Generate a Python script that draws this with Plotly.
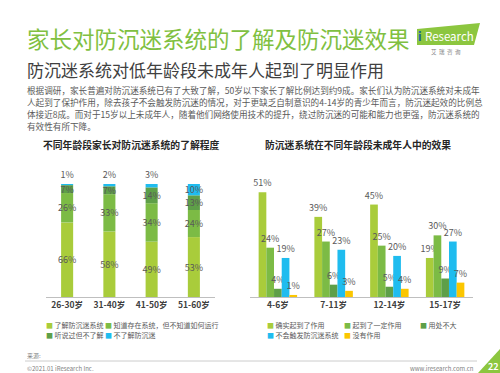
import plotly.graph_objects as go

W, H = 500, 373
FONT = "Noto Sans CJK SC"

# ---------------- data ----------------
age_parent = ["26-30岁", "31-40岁", "41-50岁", "51-60岁"]
parent_names = ["了解防沉迷系统", "知道存在系统，但不知道如何运行", "听说过但不了解", "不了解防沉迷"]
know_full = [66, 58, 49, 53]
know_exist = [26, 33, 34, 24]
heard_only = [7, 7, 14, 13]
not_know = [1, 2, 3, 10]

age_child = ["4-6岁", "7-11岁", "12-14岁", "15-17岁"]
child_names = ["确实起到了作用", "起到了一定作用", "用处不大", "不会触发防沉迷系统", "没有作用"]
effective = [51, 39, 45, 19]
some_effect = [24, 27, 25, 30]
little_use = [4, 6, 5, 9]
not_trigger = [19, 23, 20, 27]
no_effect = [1, 3, 4, 7]

C_LIGHT = "#a9cc3b"
C_MID = "#7cbb45"
C_DARK = "#5e9f48"
C_CYAN = "#1fbcef"
C_YELLOW = "#fbc600"
parent_colors = [C_LIGHT, C_MID, C_DARK, C_CYAN]
child_colors = [C_LIGHT, C_MID, C_DARK, C_CYAN, C_YELLOW]
LABEL = "#595959"


def px(x):
    return x / W


def py(y):
    return 1 - y / H


fig = go.Figure()

# ---------- left: stacked bars (drawn with base in one offset group) ----------
parent_series = [know_full, know_exist, heard_only, not_know]
base = [0] * len(age_parent)
for name, vals, col in zip(parent_names, parent_series, parent_colors):
    fig.add_trace(go.Bar(
        x=age_parent, y=vals, base=list(base), name=name,
        marker=dict(color=col, line=dict(width=0)),
        offsetgroup="p", width=0.285,
        text=[f"{v}%" for v in vals],
        textposition=["outside" if v < 5 else "inside" for v in vals],
        insidetextanchor="middle", constraintext="none", textangle=0,
        insidetextfont=dict(family=FONT, size=9, color=LABEL),
        outsidetextfont=dict(family=FONT, size=9, color=LABEL),
        xaxis="x", yaxis="y", showlegend=False, cliponaxis=False,
    ))
    base = [b + v for b, v in zip(base, vals)]

# ---------- right: grouped bars ----------
child_series = [effective, some_effect, little_use, not_trigger, no_effect]
for name, vals, col in zip(child_names, child_series, child_colors):
    fig.add_trace(go.Bar(
        x=age_child, y=vals, name=name,
        marker=dict(color=col, line=dict(width=0)),
        text=[f"{v}%" for v in vals], textposition="outside",
        constraintext="none", textangle=0,
        outsidetextfont=dict(family=FONT, size=9, color=LABEL),
        xaxis="x2", yaxis="y2", showlegend=False, cliponaxis=False,
    ))

ydom = [py(297), py(184)]
axis_common = dict(showline=True, linecolor="#bfbfbf", linewidth=1, ticks="",
                   tickfont=dict(family=FONT, size=8.5, color="#404040", weight="bold"),
                   fixedrange=True)
fig.update_layout(
    width=W, height=H, margin=dict(l=0, r=0, t=0, b=0),
    paper_bgcolor="white", plot_bgcolor="white",
    barmode="group", bargap=0.31, bargroupgap=0,
    showlegend=False,
    xaxis=dict(domain=[px(46), px(215)], anchor="y", **axis_common),
    yaxis=dict(domain=ydom, range=[0, 100], visible=False, anchor="x", fixedrange=True),
    xaxis2=dict(domain=[px(250), px(473)], anchor="y2", **axis_common),
    yaxis2=dict(domain=ydom, range=[0, 55], visible=False, anchor="x2", fixedrange=True),
    font=dict(family=FONT),
)

ann = []


def text(x, y, s, size, color, xanchor="left", weight="normal"):
    ann.append(dict(x=px(x), y=py(y), xref="paper", yref="paper", text=s,
                    showarrow=False, xanchor=xanchor, yanchor="middle",
                    font=dict(family=FONT, size=size, color=color, weight=weight)))


# titles
text(25, 38, "家长对防沉迷系统的了解及防沉迷效果", 22.5, "#80c041")
text(25, 69, "防沉迷系统对低年龄段未成年人起到了明显作用", 17, "#404040")
para = [
    "根据调研，家长普遍对防沉迷系统已有了大致了解，50岁以下家长了解比例达到约9成。家长们认为防沉迷系统对未成年",
    "人起到了保护作用，除去孩子不会触发防沉迷的情况，对于更缺乏自制意识的4-14岁的青少年而言，防沉迷起效的比例总",
    "体接近8成。而对于15岁以上未成年人，随着他们网络使用技术的提升，绕过防沉迷的可能和能力也更强，防沉迷系统的",
    "有效性有所下降。",
]
for i, line in enumerate(para):
    text(25, 90 + i * 11.9, line, 8.6, "#595959")

text(131, 145, "不同年龄段家长对防沉迷系统的了解程度", 9.8, "#262626", xanchor="center", weight="bold")
text(358, 145, "防沉迷系统在不同年龄段未成年人中的效果", 9.8, "#262626", xanchor="center", weight="bold")

# legends
def legend_item(x, y, name, col):
    text(x, y, f'<span style="color:{col}">■</span> {name}', 7, "#595959")


legend_item(44, 325, parent_names[0], parent_colors[0])
legend_item(103, 325, parent_names[1], parent_colors[1])
legend_item(44, 335, parent_names[2], parent_colors[2])
legend_item(103, 335, parent_names[3], parent_colors[3])

legend_item(265, 325, child_names[0], child_colors[0])
legend_item(342, 325, child_names[1], child_colors[1])
legend_item(418, 325, child_names[2], child_colors[2])
legend_item(265, 335, child_names[3], child_colors[3])
legend_item(342, 335, child_names[4], child_colors[4])

# footer
text(25, 355, "来源:", 6, "#7f7f7f")
text(25, 368, "©2021.01 iResearch Inc.", 6, "#7f7f7f")
text(476, 368, "www.iresearch.com.cn", 6, "#7f7f7f", xanchor="right")
text(493, 366, "22", 9, "white", xanchor="center", weight="bold")

# logo text
text(449, 36, "Research", 11.5, "white", xanchor="center")
text(420, 36, "i", 12, "#1a5fa8", xanchor="center", weight="bold")
text(446, 52, "艾  瑞  咨  询", 5.5, "#7f7f7f", xanchor="center")

fig.update_layout(annotations=ann)

shapes = [
    dict(type="path", xref="paper", yref="paper",
         path=f"M {px(417)} {py(29)} L {px(480)} {py(23)} L {px(474)} {py(45)} L {px(417)} {py(45)} Z",
         fillcolor="#8cc63f", line=dict(width=0), layer="below"),
    dict(type="line", xref="paper", yref="paper", x0=px(25), x1=px(477), y0=py(361), y1=py(361),
         line=dict(color="#bfbfbf", width=0.8)),
    dict(type="path", xref="paper", yref="paper",
         path=f"M {px(478)} {py(373)} L {px(500)} {py(373)} L {px(500)} {py(349)} Z",
         fillcolor="#8cc63f", line=dict(width=0), layer="below"),
]
fig.update_layout(shapes=shapes)

fig.write_html("out.html", config={"displayModeBar": False, "staticPlot": True},
               post_script="document.body.style.margin='0';document.body.style.overflow='hidden';")
